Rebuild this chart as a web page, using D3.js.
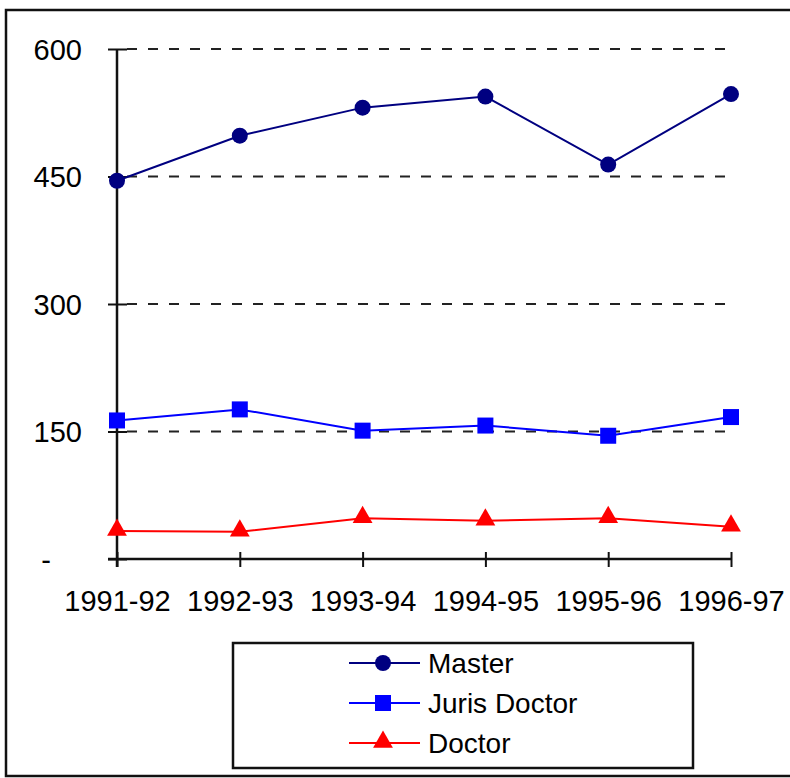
<!DOCTYPE html>
<meta charset="utf-8">
<style>
body { margin: 0; background: #fff; }
svg { display: block; }
text { font-family: "Liberation Sans", Arial, sans-serif; fill: #000; }
</style>
<body>
<div id="chart"></div>
<script src="https://d3js.org/d3.v7.min.js"></script>
<script>

var years = ["1991-92", "1992-93", "1993-94", "1994-95", "1995-96", "1996-97"];
var master = [445, 498, 531, 544, 464, 547];
var jurisDoctor = [163, 176, 151, 157, 145, 167];
var doctor = [33, 32, 48, 45, 48, 38];
var yTicks = [0, 150, 300, 450, 600];
var yTickLabels = ["-", "150", "300", "450", "600"];

var series = [
  {name: "Master", values: master, color: "#000080", shape: "circle"},
  {name: "Juris Doctor", values: jurisDoctor, color: "#0000ff", shape: "square"},
  {name: "Doctor", values: doctor, color: "#ff0000", shape: "triangle"}
];

var width = 790, height = 778;

var svg = d3.select("#chart").append("svg")
  .attr("width", width)
  .attr("height", height);

// outer frame
svg.append("rect")
  .attr("x", 6).attr("y", 10)
  .attr("width", 800).attr("height", 766)
  .attr("fill", "none")
  .attr("stroke", "#111")
  .attr("stroke-width", 2.5);

var x = d3.scalePoint().domain(years).range([117, 731]);
var y = d3.scaleLinear().domain([0, 600]).range([559, 49]);

// dashed gridlines
svg.append("g").selectAll("line")
  .data(yTicks.filter(function(d){ return d > 0; }))
  .join("line")
  .attr("x1", 117).attr("x2", 731)
  .attr("y1", function(d){ return y(d); })
  .attr("y2", function(d){ return y(d); })
  .attr("stroke", "#222")
  .attr("stroke-width", 2)
  .attr("stroke-dasharray", "10,11")
  .attr("stroke-dashoffset", -10);

// y axis
var yAxis = svg.append("g")
  .attr("transform", "translate(117,0)")
  .call(d3.axisLeft(y).tickValues(yTicks)
    .tickSize(9)
    .tickFormat(function(d, i){ return yTickLabels[i]; }));
yAxis.select(".domain").remove();
yAxis.selectAll(".tick line").attr("x2", -9).attr("x1", 10).attr("stroke", "#111").attr("stroke-width", 2);
yAxis.selectAll("text").style("font-size", "29px").attr("dy", "0.35em")
  .attr("x", function(d){ return d === 0 ? -66 : -35; });
yAxis.append("line")
  .attr("x1", 0).attr("x2", 0)
  .attr("y1", y(600)).attr("y2", y(0) + 8)
  .attr("stroke", "#111").attr("stroke-width", 2.5);

// x axis
var xAxis = svg.append("g")
  .attr("transform", "translate(0," + y(0) + ")")
  .call(d3.axisBottom(x).tickSize(8));
xAxis.select(".domain").remove();
xAxis.append("line")
  .attr("x1", 108).attr("x2", 731)
  .attr("stroke", "#111").attr("stroke-width", 2.5);
xAxis.selectAll(".tick line").attr("y1", -7).attr("y2", 8).attr("stroke", "#111").attr("stroke-width", 2);
xAxis.selectAll("text").style("font-size", "29px").attr("dy", "0.35em").attr("y", 42);

var line = d3.line()
  .x(function(d, i){ return x(years[i]); })
  .y(function(d){ return y(d); });

function drawMarker(g, shape, color) {
  if (shape === "circle") {
    g.append("circle").attr("r", 8).attr("fill", color);
  } else if (shape === "square") {
    g.append("rect").attr("x", -8).attr("y", -8).attr("width", 16).attr("height", 16).attr("fill", color);
  } else {
    g.append("path").attr("d", d3.symbol().type(d3.symbolTriangle).size(170)).attr("fill", color)
      .attr("transform", "translate(0,-1)");
  }
}

series.forEach(function(s){
  svg.append("path")
    .datum(s.values)
    .attr("d", line)
    .attr("fill", "none")
    .attr("stroke", s.color)
    .attr("stroke-width", 2);
  s.values.forEach(function(v, i){
    var g = svg.append("g").attr("transform", "translate(" + x(years[i]) + "," + y(v) + ")");
    drawMarker(g, s.shape, s.color);
  });
});

// legend
var legend = svg.append("g");
legend.append("rect")
  .attr("x", 233).attr("y", 643)
  .attr("width", 460).attr("height", 125)
  .attr("fill", "#fff")
  .attr("stroke", "#111")
  .attr("stroke-width", 2.5);

series.forEach(function(s, i){
  var ly = 663 + i * 40;
  var row = legend.append("g");
  row.append("line")
    .attr("x1", 349).attr("x2", 420)
    .attr("y1", ly).attr("y2", ly)
    .attr("stroke", s.color).attr("stroke-width", 2);
  drawMarker(row.append("g").attr("transform", "translate(383," + ly + ")"), s.shape, s.color);
  row.append("text")
    .attr("x", 428).attr("y", ly)
    .attr("dy", "0.35em")
    .style("font-size", "28px")
    .text(s.name);
});

</script>
</body>
